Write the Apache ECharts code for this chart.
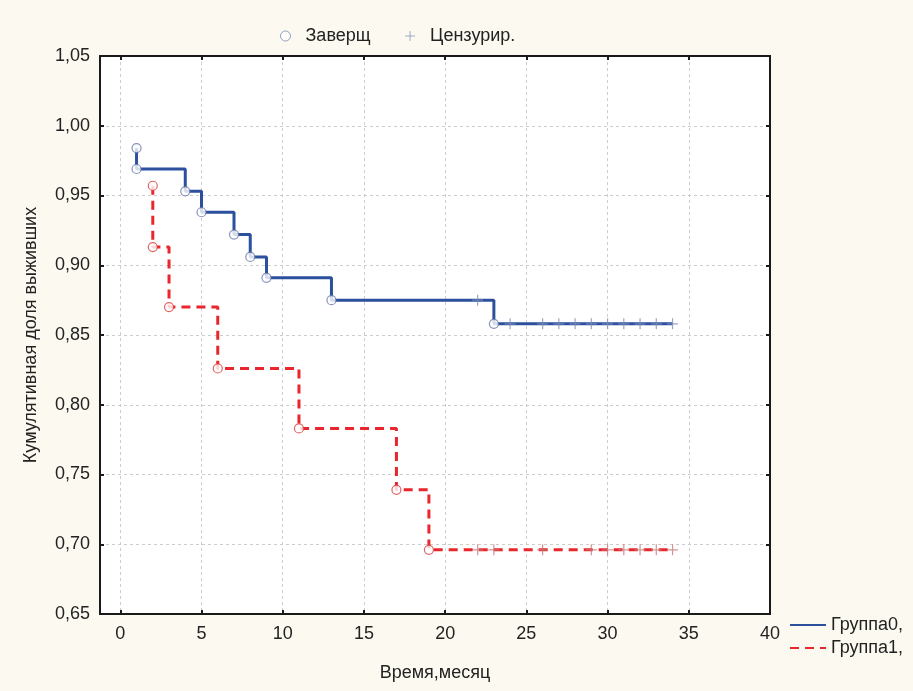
<!DOCTYPE html>
<html>
<head>
<meta charset="utf-8">
<script src="https://cdn.jsdelivr.net/npm/echarts@6/dist/echarts.min.js"></script>
<style>
  html, body { margin: 0; padding: 0; background: #fcfaf0; }
  #chart { width: 913px; height: 691px; }
</style>
</head>
<body>
<div id="chart"></div>
<script>
// Kaplan-Meier: группа 0
const group0Times = [1, 1, 4, 5, 7, 8, 9, 13, 23];
const group0Surv = [0.984, 0.969, 0.953, 0.938, 0.922, 0.906, 0.891, 0.875, 0.858];
const group0CensTimes = [22, 24, 26, 27, 28, 29, 30, 31, 32, 33, 34];
const group0CensSurv = [0.875, 0.858, 0.858, 0.858, 0.858, 0.858, 0.858, 0.858, 0.858, 0.858, 0.858];

// группа 1
const group1Times = [2, 2, 3, 6, 11, 17, 19];
const group1Surv = [0.957, 0.913, 0.870, 0.826, 0.783, 0.739, 0.696];
const group1CensTimes = [22, 23, 26, 29, 30, 31, 32, 33, 34];
const group1CensSurv = [0.696, 0.696, 0.696, 0.696, 0.696, 0.696, 0.696, 0.696, 0.696];

const lastTime = 34;
const xTicks = [0, 5, 10, 15, 20, 25, 30, 35, 40];

const FONT = 'Liberation Sans, Arial, sans-serif';
const FS = 18;
const BLUE = '#2c4f9e';
const RED = '#e8262b';
const plusPath = 'path://M5,0 L5,10 M0,5 L10,5';

function pairs(xs, ys) { return xs.map((x, i) => [x, ys[i]]); }
function stepData(xs, ys) {
  const d = pairs(xs, ys);
  d.push([lastTime, ys[ys.length - 1]]);
  return d;
}

const chart = echarts.init(document.getElementById('chart'));

const xBase = {
  type: 'value', min: -1.25, max: 40,
  axisLine: { show: true, onZero: false, lineStyle: { color: '#1a1a1a', width: 2 } },
  axisTick: { show: true, inside: true, length: 4, customValues: xTicks, lineStyle: { color: '#1a1a1a', width: 2 } },
  splitLine: { show: false }
};
const yBase = {
  type: 'value', min: 0.65, max: 1.05, interval: 0.05,
  axisLine: { show: true, onZero: false, lineStyle: { color: '#1a1a1a', width: 2 } },
  axisTick: { show: true, inside: true, length: 4, lineStyle: { color: '#1a1a1a', width: 2 } },
  splitLine: { show: false }
};
const txt = { fontSize: FS, color: '#222', fontFamily: FONT };

const option = {
  backgroundColor: '#fcfaf0',
  textStyle: { fontFamily: FONT },
  grid: {
    left: 100, top: 56, right: 143, bottom: 77,
    show: true, backgroundColor: '#ffffff', borderColor: '#1a1a1a', borderWidth: 2
  },
  legend: [
    {
      left: 275, top: 22, itemGap: 34, itemWidth: 10, itemHeight: 10,
      textStyle: Object.assign({ padding: [0, 0, 0, 10] }, txt),
      data: [
        { name: 'Заверщ', icon: 'circle', itemStyle: { color: '#fff', borderColor: '#7a88b0', borderWidth: 1 } },
        { name: 'Цензурир.', icon: plusPath, itemStyle: { color: 'transparent', borderColor: '#8a98bc', borderWidth: 1 } }
      ]
    },
    {
      orient: 'vertical', left: 784, top: 611, itemGap: 5, itemWidth: 36, itemHeight: 14,
      textStyle: Object.assign({ padding: [0, 0, 0, 0] }, txt),
      data: [
        { name: 'Группа0,', itemStyle: { opacity: 0 } },
        { name: 'Группа1,', itemStyle: { opacity: 0 } }
      ]
    }
  ],
  xAxis: [
    Object.assign({}, xBase, {
      position: 'bottom',
      name: 'Время,месяц', nameLocation: 'middle', nameGap: 50,
      nameTextStyle: txt,
      axisLabel: Object.assign({ customValues: xTicks, margin: 11 }, txt),
      splitLine: { show: true, lineStyle: { color: '#cccccc', type: [3, 3], width: 1 } }
    }),
    Object.assign({}, xBase, { position: 'top', axisLabel: { show: false } })
  ],
  yAxis: [
    Object.assign({}, yBase, {
      position: 'left',
      name: 'Кумулятивная доля выживших', nameLocation: 'middle', nameGap: 60,
      nameTextStyle: txt,
      axisLabel: Object.assign({
        margin: 10,
        formatter: v => v.toFixed(2).replace('.', ',')
      }, txt),
      splitLine: { show: true, lineStyle: { color: '#cccccc', type: [3, 3], width: 1 } }
    }),
    Object.assign({}, yBase, { position: 'right', axisLabel: { show: false } })
  ],
  series: [
    {
      name: 'Группа0,', type: 'line', step: 'end', symbol: 'none',
      data: stepData(group0Times, group0Surv),
      lineStyle: { color: BLUE, width: 3 }, itemStyle: { color: BLUE },
      z: 2, animation: false
    },
    {
      name: 'Группа1,', type: 'line', step: 'end', symbol: 'none',
      data: stepData(group1Times, group1Surv),
      lineStyle: { color: RED, width: 3, type: [9, 6] }, itemStyle: { color: RED },
      z: 2, animation: false
    },
    {
      name: 'Заверщ', type: 'scatter', symbol: 'circle', symbolSize: 9,
      data: pairs(group0Times, group0Surv),
      itemStyle: { color: '#fff', borderColor: '#6878a8', borderWidth: 1.2 },
      z: 3, animation: false
    },
    {
      name: 'Заверщ', type: 'scatter', symbol: 'circle', symbolSize: 9,
      data: pairs(group1Times, group1Surv),
      itemStyle: { color: '#fff', borderColor: '#d84040', borderWidth: 1.2 },
      z: 3, animation: false
    },
    {
      name: 'Цензурир.', type: 'scatter', symbol: plusPath, symbolSize: 11,
      data: pairs(group0CensTimes, group0CensSurv),
      itemStyle: { color: 'transparent', borderColor: '#8090b8', borderWidth: 1.2 },
      z: 3, animation: false
    },
    {
      name: 'Цензурир.', type: 'scatter', symbol: plusPath, symbolSize: 11,
      data: pairs(group1CensTimes, group1CensSurv),
      itemStyle: { color: 'transparent', borderColor: '#c87878', borderWidth: 1.2 },
      z: 3, animation: false
    }
  ]
};

chart.setOption(option);
</script>
</body>
</html>
